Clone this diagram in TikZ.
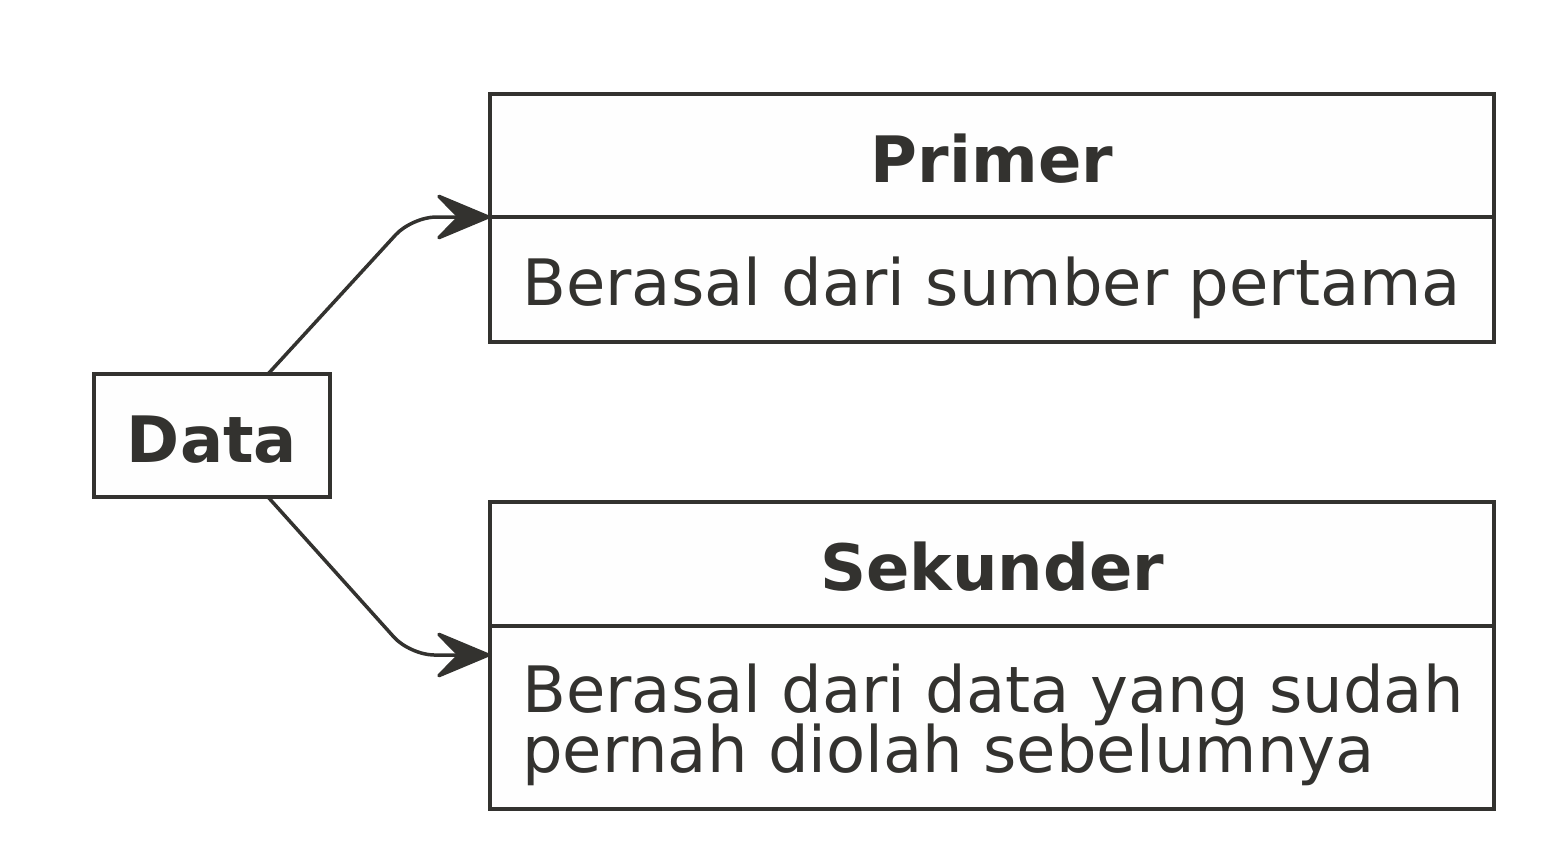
\documentclass[tikz,border=0pt]{standalone}
\usepackage{fontspec}
\setmainfont{DejaVu Sans}
\usetikzlibrary{arrows.meta}
\definecolor{ink}{HTML}{33322F}
\definecolor{boxfill}{HTML}{FEFEFE}
\tikzset{
  box/.style={draw=ink, fill=boxfill, line width=3.5pt, rectangle, inner sep=0pt, outer sep=0pt, line join=miter},
  lbl/.style={text=ink, inner sep=0pt, font=\fontsize{64}{60}\selectfont},
  hdr/.style={lbl, font=\fontsize{64}{60}\selectfont\bfseries},
  conn/.style={draw=ink, line width=3.5pt, rounded corners=24pt,
    -{Stealth[length=61pt, width=51pt, inset=25pt, round]}}
}
\begin{document}
\begin{tikzpicture}[x=1pt, y=-1pt]
\useasboundingbox (0,0) rectangle (1544,864);
% Data box
\node[box, minimum width=236pt, minimum height=123pt] (data) at (212,435.5) {};
\node[hdr, anchor=base] (datat) at (212,462) {Data};
% Primer
\node[box, minimum width=1004pt, minimum height=123pt] (primhead) at (992,155.5) {};
\node[box, minimum width=1004pt, minimum height=125pt] (primbody) at (992,279.5) {};
\node[hdr, anchor=base] (primt) at (992,182) {Primer};
\node[lbl, anchor=base west] (primb) at (522,305) {Berasal dari sumber pertama};
% Sekunder
\node[box, minimum width=1004pt, minimum height=124pt] (sekhead) at (992,564) {};
\node[box, minimum width=1004pt, minimum height=183pt] (sekbody) at (992,717.5) {};
\node[hdr, anchor=base] (sekt) at (992,590) {Sekunder};
\node[lbl, anchor=base west] (sekb1) at (522,712) {Berasal dari data yang sudah};
\node[lbl, anchor=base west] (sekb2) at (522,772) {pernah diolah sebelumnya};
% connectors
\coordinate (d1) at ([xshift=56pt]data.north);
\coordinate (d2) at ([xshift=56pt]data.south);
\coordinate (p1) at (primbody.north west);
\coordinate (s1) at ([yshift=-29pt]sekbody.north west);
\draw[conn] (d1) -- ++(144,-157) -- (p1);
\draw[conn] (d2) -- ++(142,158) -- (s1);
\end{tikzpicture}
\end{document}
